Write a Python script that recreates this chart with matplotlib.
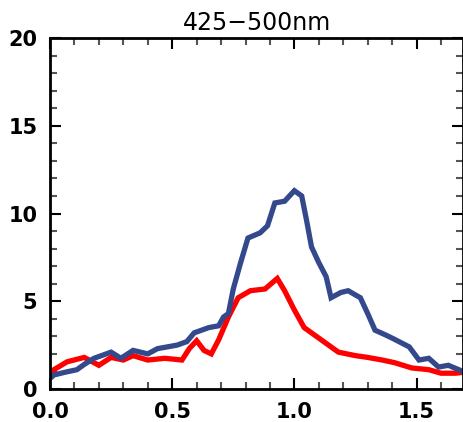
import matplotlib
matplotlib.use("Agg")
import matplotlib.pyplot as plt
from matplotlib.ticker import MultipleLocator

plt.rcParams["font.family"] = ["DejaVu Sans"]

# 蓝线
x_blue = [0.0, 0.016, 0.06, 0.11, 0.14, 0.18, 0.25, 0.29, 0.34, 0.40, 0.44,
          0.52, 0.56, 0.59, 0.62, 0.65, 0.69, 0.71, 0.73, 0.75, 0.78, 0.81,
          0.86, 0.89, 0.92, 0.96, 1.0, 1.03, 1.05, 1.07, 1.10, 1.13, 1.15,
          1.19, 1.22, 1.27, 1.30, 1.33, 1.37, 1.40, 1.47, 1.51, 1.55, 1.59,
          1.63, 1.69]
y_blue = [0.6, 0.8, 0.95, 1.1, 1.4, 1.75, 2.1, 1.75, 2.2, 2.0, 2.3,
          2.5, 2.7, 3.2, 3.35, 3.5, 3.6, 4.1, 4.3, 5.7, 7.2, 8.6,
          8.9, 9.3, 10.6, 10.7, 11.3, 11.0, 9.6, 8.1, 7.2, 6.4, 5.2,
          5.5, 5.6, 5.2, 4.3, 3.35, 3.1, 2.9, 2.4, 1.65, 1.75, 1.25,
          1.35, 1.0]

# 红线
x_red = [0.0, 0.016, 0.07, 0.14, 0.2, 0.25, 0.3, 0.34, 0.4, 0.47, 0.54,
         0.57, 0.6, 0.63, 0.66, 0.69, 0.73, 0.77, 0.82, 0.88, 0.93, 0.96,
         1.0, 1.04, 1.07, 1.1, 1.13, 1.18, 1.25, 1.3, 1.36, 1.41, 1.48,
         1.55, 1.6, 1.66, 1.69]
y_red = [0.9, 1.1, 1.55, 1.8, 1.35, 1.8, 1.65, 1.9, 1.65, 1.75, 1.65,
         2.3, 2.75, 2.2, 2.0, 2.8, 4.1, 5.2, 5.6, 5.7, 6.3, 5.6,
         4.5, 3.5, 3.2, 2.9, 2.6, 2.1, 1.9, 1.8, 1.65, 1.5, 1.2,
         1.1, 0.9, 0.9, 0.95]

fig = plt.figure(figsize=(4.63, 4.22), dpi=100)
ax = fig.add_axes([50 / 463, 33 / 422, 413 / 463, 351 / 422])

ax.plot(x_red, y_red, color="#ff0000", lw=3.8, solid_joinstyle="miter")
ax.plot(x_blue, y_blue, color="#34498c", lw=3.8, solid_joinstyle="miter")

ax.set_xlim(0, 1.69)
ax.set_ylim(0, 20)
ax.xaxis.set_major_locator(MultipleLocator(0.5))
ax.xaxis.set_minor_locator(MultipleLocator(0.1))
ax.yaxis.set_major_locator(MultipleLocator(5))
ax.yaxis.set_minor_locator(MultipleLocator(1))
ax.xaxis.set_major_formatter(lambda v, p: f"{v:.1f}")
ax.tick_params(which="both", direction="in", top=True, right=True,
               labelsize=15, width=1.5)
ax.tick_params(which="major", length=8, pad=9)
ax.tick_params(which="minor", length=5, color="#555555")
for lab in ax.get_xticklabels() + ax.get_yticklabels():
    lab.set_fontweight("bold")
for s in ax.spines.values():
    s.set_linewidth(2)

ax.set_title("425\u2212500nm", fontsize=17, pad=6)

plt.savefig("out.png", dpi=100)
